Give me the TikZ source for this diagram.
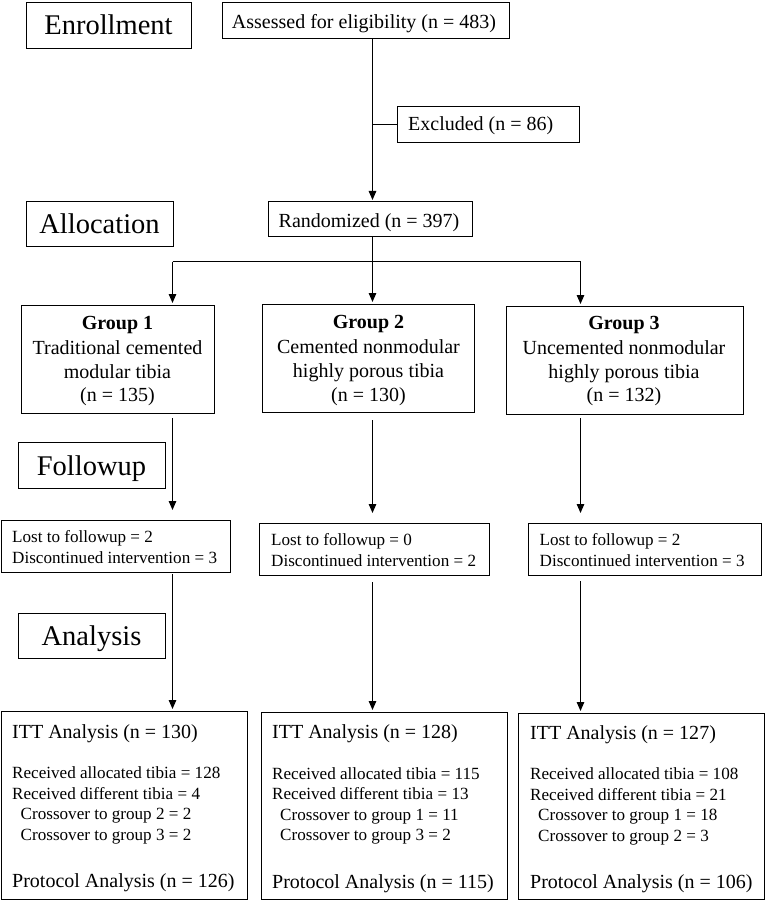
\documentclass[tikz,border=0pt]{standalone}
\usepackage{fontspec}
\setmainfont{Liberation Serif}
\usetikzlibrary{arrows.meta}
\tikzset{
  box/.style={draw, line width=1.2pt, inner sep=0pt, anchor=north west},
  big/.style={font=\fontsize{20}{24}\selectfont, inner sep=0pt},
  small/.style={font=\fontsize{17.1}{20}\selectfont, inner sep=0pt},
  stage/.style={font=\fontsize{28.5}{34}\selectfont, inner sep=0pt},
  lt/.style={anchor=base west},
  ct/.style={anchor=base},
  ln/.style={line width=1.2pt},
  arr/.style={line width=1.2pt, -{Triangle[length=9pt,width=7.5pt]}},
}
\begin{document}
\begin{tikzpicture}[x=1pt,y=-1pt]
\useasboundingbox (0,0) rectangle (765,901);
% boxes
\node[box, minimum width=165pt, minimum height=46pt] (enr) at (26,2) {};
\node[box, minimum width=287pt, minimum height=36pt] (assess) at (222,2) {};
\node[box, minimum width=182pt, minimum height=36pt] (excl) at (397,106) {};
\node[box, minimum width=147pt, minimum height=45pt] (alloc) at (26,201) {};
\node[box, minimum width=204pt, minimum height=35pt] (rand) at (268,201) {};
\node[box, minimum width=193pt, minimum height=108pt] (g1) at (21,305) {};
\node[box, minimum width=212pt, minimum height=108pt] (g2) at (262,304) {};
\node[box, minimum width=237pt, minimum height=108pt] (g3) at (506,306) {};
\node[box, minimum width=147pt, minimum height=46pt] (follow) at (18,442) {};
\node[box, minimum width=229pt, minimum height=52pt] (lost1) at (1,520) {};
\node[box, minimum width=230pt, minimum height=52pt] (lost2) at (259,523) {};
\node[box, minimum width=233pt, minimum height=52pt] (lost3) at (528,523) {};
\node[box, minimum width=147pt, minimum height=45pt] (anal) at (18,613) {};
\node[box, minimum width=246pt, minimum height=188pt] (itt1) at (1,711) {};
\node[box, minimum width=246pt, minimum height=187pt] (itt2) at (261,712) {};
\node[box, minimum width=246pt, minimum height=186pt] (itt3) at (518,713) {};
% stage labels
\node[stage, ct] (enrT) at (108.5,35) {Enrollment};
\node[stage, ct] (allocT) at (99.5,233.5) {Allocation};
\node[stage, ct] (followT) at (91.5,475) {Followup};
\node[stage, ct] (analT) at (91.5,645.5) {Analysis};
% top texts
\node[big, ct] (assessT) at (364,28.3) {Assessed for eligibility (n = 483)};
\node[big, lt] (exclT) at (408,130.7) {Excluded (n = 86)};
\node[big, ct] (randT) at (369,227) {Randomized (n = 397)};
% group texts
\node[big, ct] (g1a) at (117.5,329) {\bfseries Group 1};
\node[big, ct] (g1b) at (117.5,354) {Traditional cemented};
\node[big, ct] (g1c) at (117.5,378.3) {modular tibia};
\node[big, ct] (g1d) at (117.5,401) {(n = 135)};
\node[big, ct] (g2a) at (368.5,328.3) {\bfseries Group 2};
\node[big, ct] (g2b) at (368.5,353.3) {Cemented nonmodular};
\node[big, ct] (g2c) at (368.5,377.7) {highly porous tibia};
\node[big, ct] (g2d) at (368.5,401) {(n = 130)};
\node[big, ct] (g3a) at (624,329.5) {\bfseries Group 3};
\node[big, ct] (g3b) at (624,354.5) {Uncemented nonmodular};
\node[big, ct] (g3c) at (624,378.5) {highly porous tibia};
\node[big, ct] (g3d) at (624,401.5) {(n = 132)};
% lost texts
\node[small, lt] (l1a) at (12,542.5) {Lost to followup = 2};
\node[small, lt] (l1b) at (12,563.3) {Discontinued intervention = 3};
\node[small, lt] (l2a) at (271,545.7) {Lost to followup = 0};
\node[small, lt] (l2b) at (271,566.5) {Discontinued intervention = 2};
\node[small, lt] (l3a) at (539.5,545.7) {Lost to followup = 2};
\node[small, lt] (l3b) at (539.5,566.5) {Discontinued intervention = 3};
% ITT texts
\node[big, lt] (i1a) at (12,738) {ITT Analysis (n = 130)};
\node[small, lt] (i1b) at (12,778) {Received allocated tibia = 128};
\node[small, lt] (i1c) at (12,799) {Received different tibia = 4};
\node[small, lt] (i1d) at (20.5,819.5) {Crossover to group 2 = 2};
\node[small, lt] (i1e) at (20.5,840.5) {Crossover to group 3 = 2};
\node[big, lt] (i1f) at (12,887) {Protocol Analysis (n = 126)};
\node[big, lt] (i2a) at (272,738.5) {ITT Analysis (n = 128)};
\node[small, lt] (i2b) at (272,779) {Received allocated tibia = 115};
\node[small, lt] (i2c) at (272,799.5) {Received different tibia = 13};
\node[small, lt] (i2d) at (280,820) {Crossover to group 1 = 11};
\node[small, lt] (i2e) at (280,840.5) {Crossover to group 3 = 2};
\node[big, lt] (i2f) at (272,888) {Protocol Analysis (n = 115)};
\node[big, lt] (i3a) at (530,739) {ITT Analysis (n = 127)};
\node[small, lt] (i3b) at (530,779) {Received allocated tibia = 108};
\node[small, lt] (i3c) at (530,800) {Received different tibia = 21};
\node[small, lt] (i3d) at (538,820.5) {Crossover to group 1 = 18};
\node[small, lt] (i3e) at (538,841.5) {Crossover to group 2 = 3};
\node[big, lt] (i3f) at (530,888) {Protocol Analysis (n = 106)};
% connector coordinates
\coordinate (c1) at (172.5,0);
\coordinate (c2) at (372.5,0);
\coordinate (c3) at (580.5,0);
\coordinate (s1) at (172.5,261.5);
\coordinate (s2) at (372.5,261.5);
\coordinate (s3) at (580.5,261.5);
% connectors
\draw[arr, shorten >=1pt] (assess.south -| c2) -- (rand.north -| c2);
\draw[ln] (excl.west) -- (excl.west -| c2);
\draw[ln] (rand.south -| c2) -- (s2);
\draw[ln] (s1) -- (s3);
\draw[arr, shorten >=2pt] (s1) -- (g1.north -| c1);
\draw[arr, shorten >=2pt] (s2) -- (g2.north -| c2);
\draw[arr, shorten >=2pt] (s3) -- (g3.north -| c3);
\draw[arr, shorten <=4pt, shorten >=10pt] (g1.south -| c1) -- (lost1.north -| c1);
\draw[arr, shorten <=7pt, shorten >=10pt] (g2.south -| c2) -- (lost2.north -| c2);
\draw[arr, shorten <=3pt, shorten >=10pt] (g3.south -| c3) -- (lost3.north -| c3);
\draw[arr, shorten <=1pt, shorten >=2pt] (lost1.south -| c1) -- (itt1.north -| c1);
\draw[arr, shorten <=6pt, shorten >=2pt] (lost2.south -| c2) -- (itt2.north -| c2);
\draw[arr, shorten <=5pt, shorten >=2pt] (lost3.south -| c3) -- (itt3.north -| c3);
\end{tikzpicture}
\end{document}
